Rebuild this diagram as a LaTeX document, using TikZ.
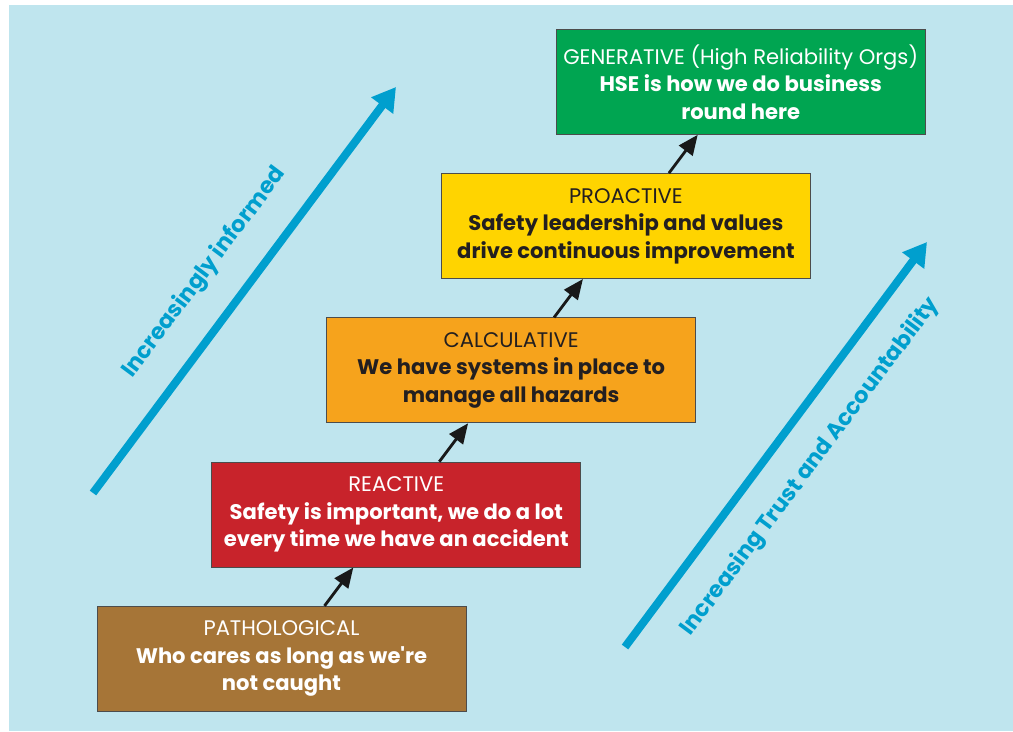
\documentclass[tikz,border=0pt]{standalone}
\usepackage{fontspec}
\setmainfont{Poppins}
\newfontfamily\plainquote{Poppins}
\usepackage{tikz}
\usetikzlibrary{arrows.meta}
\usetikzlibrary{positioning}
\usetikzlibrary{calc}

\definecolor{skybg}{HTML}{BFE5EE}
\definecolor{riseblue}{HTML}{009FCE}
\definecolor{pathobrown}{HTML}{A67537}
\definecolor{reactred}{HTML}{C8232B}
\definecolor{calcorange}{HTML}{F6A31C}
\definecolor{proyellow}{HTML}{FFD400}
\definecolor{genegreen}{HTML}{00A551}
\definecolor{darktext}{HTML}{231F20}

\tikzstyle{level} = [draw = black!70, line width = 0.6pt, rectangle, minimum width = 9.225cm, minimum height = 2.625cm, inner sep = 0pt, align = center, font = \fontsize{15}{19.5}\selectfont]
\tikzstyle{stair} = [line width = 2pt, black!90, -{Triangle[length = 0.5cm, width = 0.42cm]}]
\tikzstyle{trend} = [line width = 0.2cm, riseblue, -{Triangle[length = 0.58cm, width = 0.65cm]}]
\tikzstyle{trendtext} = [riseblue, sloped, font = \fontsize{16}{19}\selectfont\bfseries]

\begin{document}
\begin{tikzpicture}

			% Frame
			\useasboundingbox (0,0) rectangle (25.325,18.275);
			\fill[skybg] (0.225,0) rectangle (25.325,18.15);

			% Culture levels, bottom to top
			\node[level, fill = pathobrown, text = white] (patho) at (7.0375,1.804) {PATHOLOGICAL\\ \textbf{Who cares as long as we{\plainquote\bfseries '}re}\\ \textbf{not caught}};
			\node[level, fill = reactred, text = white, above = 0.96cm of patho, xshift = 2.87cm] (reactive) {REACTIVE\\ \textbf{Safety is important, we do a lot}\\ \textbf{every time we have an accident}};
			\node[level, fill = calcorange, text = darktext, above = 0.96cm of reactive, xshift = 2.87cm] (calc) {CALCULATIVE\\ \textbf{We have systems in place to}\\ \textbf{manage all hazards}};
			\node[level, fill = proyellow, text = darktext, above = 0.96cm of calc, xshift = 2.87cm] (proactive) {PROACTIVE\\ \textbf{Safety leadership and values}\\ \textbf{drive continuous improvement}};
			\node[level, fill = genegreen, text = white, above = 0.96cm of proactive, xshift = 2.87cm] (generative) {GENERATIVE (High Reliability Orgs)\\ \textbf{HSE is how we do business}\\ \textbf{round here}};

			% Steps between levels
			\foreach \lvl/\nxt in {patho/reactive, reactive/calc, calc/proactive, proactive/generative}
			\draw[stair] ($(\lvl.north)+(1.075,0)$) -- ($(\nxt.south)+(-1.075,0)$);

			% Trend arrows
			\coordinate (infoTail) at (2.325,5.95);
			\coordinate (infoHead) at (9.9,16.1);
			\coordinate (trustTail) at (15.625,2.1);
			\coordinate (trustHead) at (23.175,12.225);
			\draw[trend] (infoTail) -- node[trendtext, pos = 0.48, yshift = 1.06cm] (informed) {Increasingly informed} (infoHead);
			\draw[trend] (trustTail) -- node[trendtext, pos = 0.505, yshift = -1.02cm] (trust) {Increasing Trust and Accountability} (trustHead);

\end{tikzpicture}
\end{document}
